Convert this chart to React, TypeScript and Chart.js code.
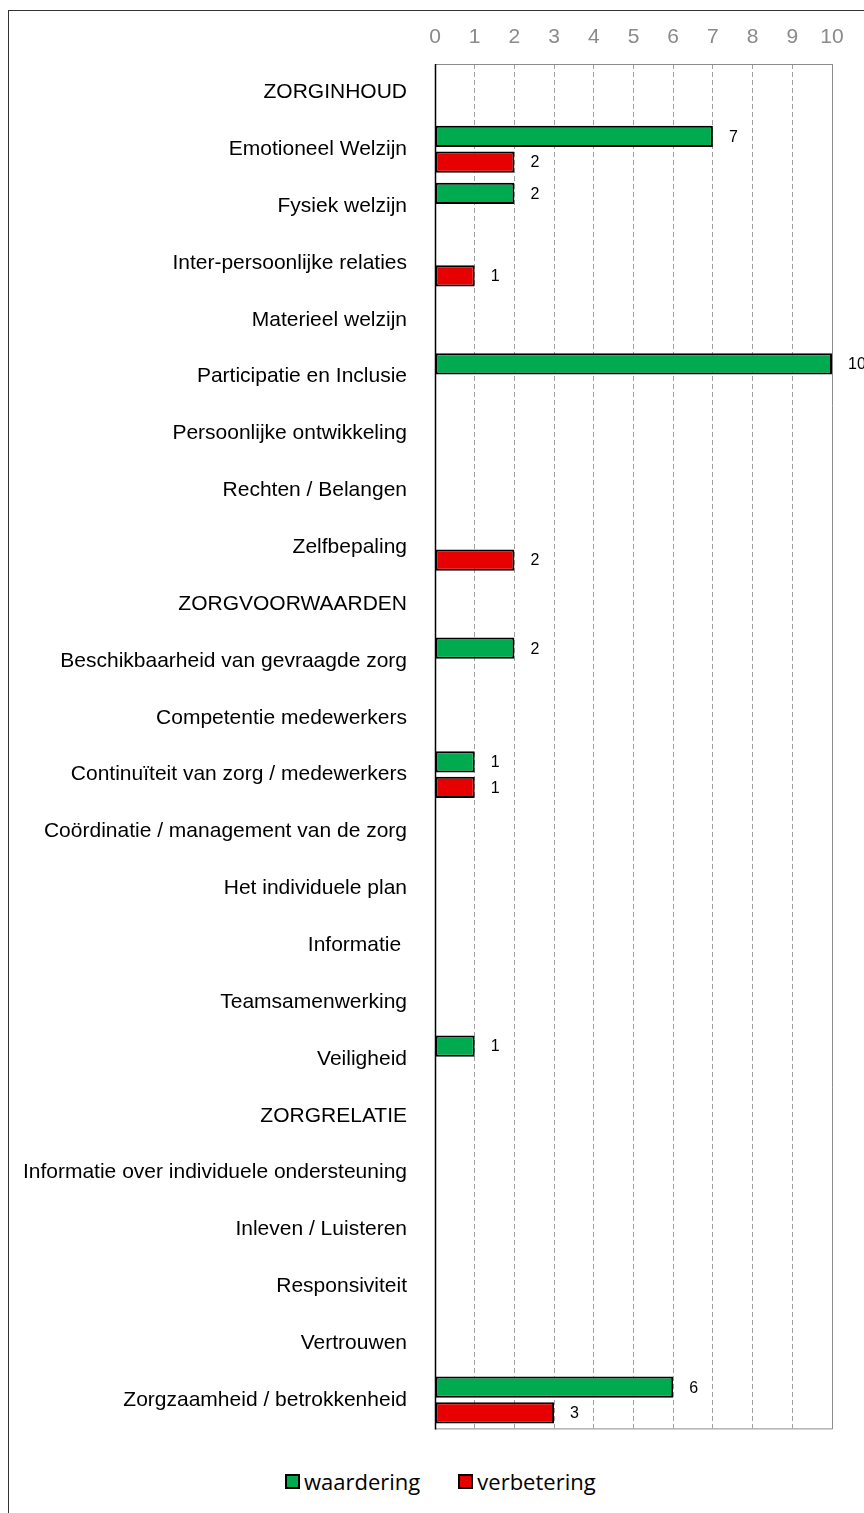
import React, { useEffect, useRef } from "react";
import { Chart, registerables } from "chart.js";

Chart.register(...registerables);

const categories = [
  "ZORGINHOUD",
  "Emotioneel Welzijn",
  "Fysiek welzijn",
  "Inter-persoonlijke relaties",
  "Materieel welzijn",
  "Participatie en Inclusie",
  "Persoonlijke ontwikkeling",
  "Rechten / Belangen",
  "Zelfbepaling",
  "ZORGVOORWAARDEN",
  "Beschikbaarheid van gevraagde zorg",
  "Competentie medewerkers",
  "Continuïteit van zorg / medewerkers",
  "Coördinatie / management van de zorg",
  "Het individuele plan",
  "Informatie ",
  "Teamsamenwerking",
  "Veiligheid",
  "ZORGRELATIE",
  "Informatie over individuele ondersteuning",
  "Inleven / Luisteren",
  "Responsiviteit",
  "Vertrouwen",
  "Zorgzaamheid / betrokkenheid",
];

const waardering: (number | null)[] = [
  null, 7, 2, null, null, 10, null, null, null, null, 2, null, 1, null, null, null, null, 1, null, null, null, null, null, 6,
];
const verbetering: (number | null)[] = [
  null, 2, null, 1, null, null, null, null, 2, null, null, null, 1, null, null, null, null, null, null, null, null, null, null, 3,
];

const seriesNames = ["waardering", "verbetering"];
const seriesColors = ["#00AB50", "#E60000"];
const xMin = 0;
const xMax = 10;
const xStep = 1;

const FONT = "'Liberation Sans', Arial, sans-serif";

const framePlugin = {
  id: "frame",
  beforeDatasetsDraw(chart: any) {
    const { ctx, chartArea } = chart;
    const { left, right, top, bottom } = chartArea;
    ctx.save();
    ctx.lineWidth = 1;
    ctx.strokeStyle = "#8C8C8C";
    ctx.beginPath();
    ctx.moveTo(left, top + 0.5);
    ctx.lineTo(right + 0.5, top + 0.5);
    ctx.lineTo(right + 0.5, bottom + 0.5);
    ctx.lineTo(left, bottom + 0.5);
    ctx.stroke();
    ctx.strokeStyle = "#000000";
    ctx.lineWidth = 1.5;
    ctx.beginPath();
    ctx.moveTo(left + 0.5, top);
    ctx.lineTo(left + 0.5, bottom + 1);
    ctx.stroke();
    ctx.restore();
  },
};

const valueLabelPlugin = {
  id: "valueLabels",
  afterDatasetsDraw(chart: any) {
    const { ctx } = chart;
    ctx.save();
    ctx.font = `16px ${FONT}`;
    ctx.fillStyle = "#000";
    ctx.textAlign = "left";
    ctx.textBaseline = "middle";
    chart.data.datasets.forEach((ds: any, di: number) => {
      const meta = chart.getDatasetMeta(di);
      meta.data.forEach((el: any, i: number) => {
        const v = ds.data[i];
        if (v === null || v === undefined) return;
        ctx.fillText(String(v), el.x + 16, el.y + 1);
      });
    });
    ctx.restore();
  },
};

export default function App() {
  const ref = useRef<HTMLCanvasElement>(null);

  useEffect(() => {
    if (!ref.current) return;
    const chart = new Chart(ref.current, {
      type: "bar",
      data: {
        labels: categories,
        datasets: [
          {
            label: seriesNames[0],
            data: waardering,
            backgroundColor: seriesColors[0],
            borderColor: "#000",
            borderWidth: 2,
            borderSkipped: false,
            categoryPercentage: 0.9,
            barPercentage: 0.83,
          },
          {
            label: seriesNames[1],
            data: verbetering,
            backgroundColor: seriesColors[1],
            borderColor: "#000",
            borderWidth: 2,
            borderSkipped: false,
            categoryPercentage: 0.9,
            barPercentage: 0.83,
          },
        ],
      },
      options: {
        indexAxis: "y",
        responsive: false,
        animation: false,
        devicePixelRatio: 1,
        layout: { padding: { left: 0, right: 32, top: 0, bottom: 14 } },
        plugins: {
          legend: { display: false },
          tooltip: { enabled: false },
        },
        scales: {
          x: {
            position: "top",
            min: xMin,
            max: xMax,
            ticks: {
              stepSize: xStep,
              color: "#8A8A8A",
              font: { family: FONT, size: 21 },
              padding: 14,
              maxRotation: 0,
            },
            grid: {
              color: "#A0A0A0",
              lineWidth: 1,
              drawTicks: false,
            },
            border: { display: false, dash: [5, 3] },
            afterFit(scale: any) {
              scale.height = 53;
            },
          },
          y: {
            ticks: {
              color: "#000",
              font: { family: FONT, size: 21 },
              padding: 20,
              autoSkip: false,
            },
            grid: { display: false },
            border: { display: false },
            afterFit(scale: any) {
              scale.width = 426;
            },
          },
        },
      },
      plugins: [framePlugin, valueLabelPlugin],
    });
    return () => chart.destroy();
  }, []);

  const box = (color: string) => (
    <span
      style={{
        display: "inline-block",
        width: 15,
        height: 15,
        boxSizing: "border-box",
        border: "2px solid #000",
        background: color,
        marginRight: 4,
      }}
    />
  );

  return (
    <div
      style={{
        position: "fixed",
        top: 10,
        left: 8,
        width: 856,
        height: 1503,
        borderTop: "1px solid #333",
        borderLeft: "1px solid #333",
        boxSizing: "border-box",
        overflow: "hidden",
        background: "#fff",
      }}
    >
      <canvas ref={ref} width={855} height={1450} style={{ display: "block", width: 855, height: 1450 }} />
      <div
        style={{
          position: "absolute",
          left: 276,
          top: 1455,
          height: 30,
          display: "flex",
          alignItems: "center",
          fontFamily: "'Open Sans', sans-serif",
          fontSize: 22,
          color: "#000",
          whiteSpace: "nowrap",
        }}
      >
        <span style={{ display: "flex", alignItems: "center" }}>
          {box(seriesColors[0])}
          {seriesNames[0]}
        </span>
        <span style={{ display: "flex", alignItems: "center", marginLeft: 38 }}>
          {box(seriesColors[1])}
          {seriesNames[1]}
        </span>
      </div>
    </div>
  );
}
